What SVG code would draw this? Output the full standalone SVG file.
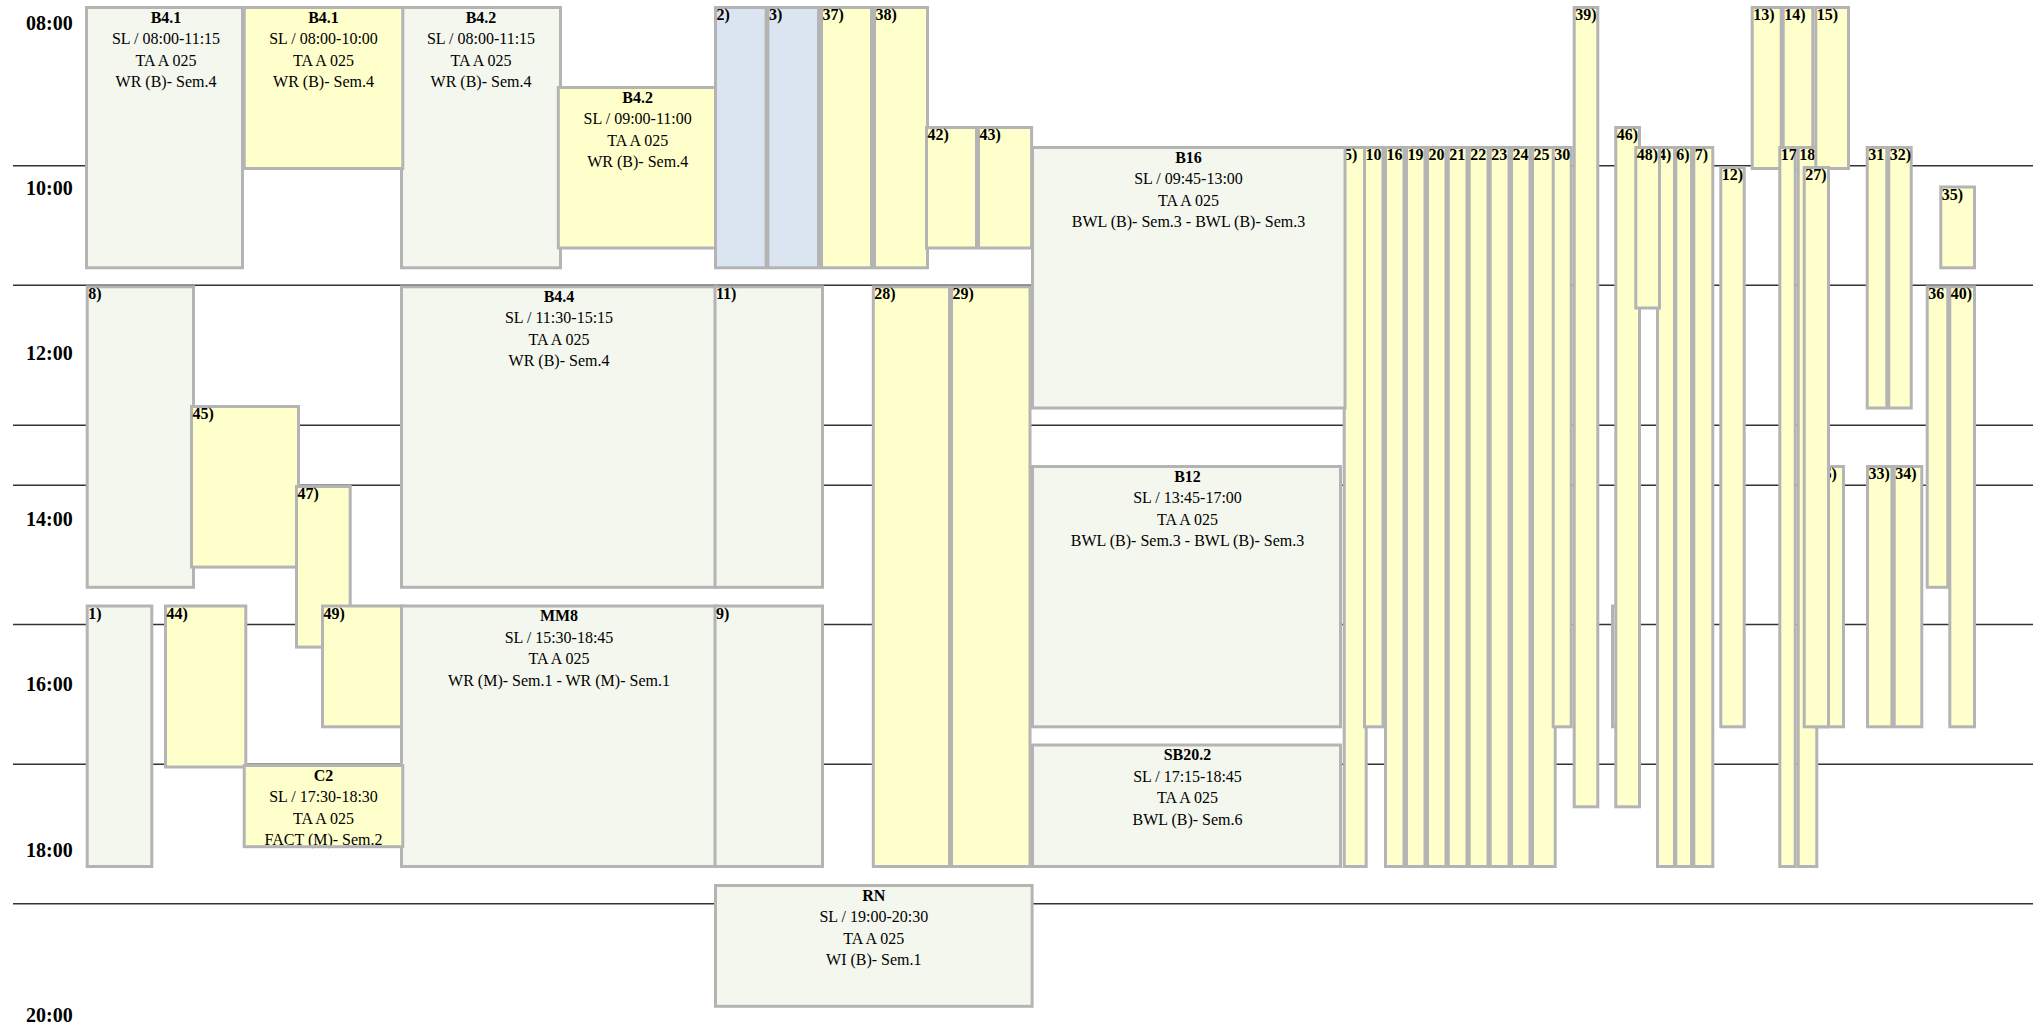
<svg xmlns="http://www.w3.org/2000/svg" width="2033" height="1023" viewBox="0 0 2033 1023">
<style>
.bx{stroke:#b4b4b4;stroke-width:3}
.so{fill:none;stroke:#b4b4b4;stroke-width:3}
.g{fill:#f4f7ee}
.y{fill:#ffffcc}
.b{fill:#dbe5f1}
.t{font-family:"Liberation Serif","Times New Roman",serif;font-size:16px;fill:#000}
.tb{font-weight:bold}
.c{text-anchor:middle}
.tm{font-family:"Liberation Serif","Times New Roman",serif;font-size:20px;font-weight:bold;fill:#000}
.hl{stroke:#333;stroke-width:1.6}
</style>
<rect width="2033" height="1023" fill="#fff"/>
<g id="grid">
<line class="hl" x1="13" y1="165.7" x2="2033" y2="165.7"/>
<line class="hl" x1="13" y1="285.3" x2="2033" y2="285.3"/>
<line class="hl" x1="13" y1="425.2" x2="2033" y2="425.2"/>
<line class="hl" x1="13" y1="485.3" x2="2033" y2="485.3"/>
<line class="hl" x1="13" y1="624.5" x2="2033" y2="624.5"/>
<line class="hl" x1="13" y1="764.3" x2="2033" y2="764.3"/>
<line class="hl" x1="13" y1="903.8" x2="2033" y2="903.8"/>
</g>
<g id="times">
<text class="tm" x="26" y="30">08:00</text>
<text class="tm" x="26" y="195">10:00</text>
<text class="tm" x="26" y="360">12:00</text>
<text class="tm" x="26" y="526">14:00</text>
<text class="tm" x="26" y="691">16:00</text>
<text class="tm" x="26" y="857">18:00</text>
<text class="tm" x="26" y="1022">20:00</text>
</g>
<g id="n-B41a"><rect class="bx g" x="86.5" y="7.5" width="156" height="260.3"/>
<text class="t tb c" x="166" y="22.5">B4.1</text><text class="t c" x="166" y="44">SL / 08:00-11:15</text><text class="t c" x="166" y="65.5">TA A 025</text><text class="t c" x="166" y="87">WR (B)- Sem.4</text></g>
<g id="n-B42a"><rect class="bx g" x="401.5" y="7.5" width="159" height="260.3"/>
<text class="t tb c" x="481" y="22.5">B4.2</text><text class="t c" x="481" y="44">SL / 08:00-11:15</text><text class="t c" x="481" y="65.5">TA A 025</text><text class="t c" x="481" y="87">WR (B)- Sem.4</text></g>
<g id="n-B41b"><rect class="bx y" x="244.2" y="7.5" width="158.6" height="161"/>
<text class="t tb c" x="323.5" y="22.5">B4.1</text><text class="t c" x="323.5" y="44">SL / 08:00-10:00</text><text class="t c" x="323.5" y="65.5">TA A 025</text><text class="t c" x="323.5" y="87">WR (B)- Sem.4</text></g>
<g id="n-B42b"><rect class="bx y" x="558.3" y="87.5" width="158.9" height="160.5"/>
<text class="t tb c" x="637.7" y="102.5">B4.2</text><text class="t c" x="637.7" y="124">SL / 09:00-11:00</text><text class="t c" x="637.7" y="145.5">TA A 025</text><text class="t c" x="637.7" y="167">WR (B)- Sem.4</text></g>
<g id="n2"><rect class="bx b" x="715.5" y="7.5" width="50.6" height="260.3"/><text class="t tb" x="716.5" y="20">2)</text></g>
<g id="n3"><rect class="bx b" x="767.9" y="7.5" width="50.6" height="260.3"/><text class="t tb" x="768.9" y="20">3)</text></g>
<g id="n37"><rect class="bx y" x="821.5" y="7.5" width="50" height="260.3"/><text class="t tb" x="822.5" y="20">37)</text></g>
<g id="n38"><rect class="bx y" x="874.5" y="7.5" width="53" height="260.3"/><text class="t tb" x="875.5" y="20">38)</text></g>
<g id="n42"><rect class="bx y" x="926.5" y="127.5" width="50" height="120.5"/><text class="t tb" x="927.5" y="140">42)</text></g>
<g id="n43"><rect class="bx y" x="978.5" y="127.5" width="53.1" height="120.5"/><text class="t tb" x="979.5" y="140">43)</text></g>
<g id="n8"><rect class="bx g" x="87.2" y="286.8" width="106.3" height="300.5"/><text class="t tb" x="88.2" y="299.3">8)</text></g>
<g id="n45"><rect class="bx y" x="191.5" y="406.5" width="107" height="160.6"/><text class="t tb" x="192.5" y="419">45)</text></g>
<g id="n47"><rect class="bx y" x="296.5" y="486.5" width="53.7" height="160.6"/><text class="t tb" x="297.5" y="499">47)</text></g>
<g id="n-B44"><rect class="bx g" x="401.5" y="286.8" width="315" height="300.5"/>
<text class="t tb c" x="559" y="301.8">B4.4</text><text class="t c" x="559" y="323.3">SL / 11:30-15:15</text><text class="t c" x="559" y="344.8">TA A 025</text><text class="t c" x="559" y="366.3">WR (B)- Sem.4</text></g>
<g id="n11"><rect class="bx g" x="715" y="286.8" width="107.5" height="300.5"/><text class="t tb" x="716" y="299.3">11)</text></g>
<g id="n28"><rect class="bx y" x="873.3" y="286.8" width="76.2" height="579.7"/><text class="t tb" x="874.3" y="299.3">28)</text></g>
<g id="n29"><rect class="bx y" x="951.5" y="286.8" width="78.5" height="579.7"/><text class="t tb" x="952.5" y="299.3">29)</text></g>
<g id="n1"><rect class="bx g" x="87.2" y="606" width="64.6" height="260.5"/><text class="t tb" x="88.2" y="618.5">1)</text></g>
<g id="n44"><rect class="bx y" x="165.5" y="606" width="80.3" height="161"/><text class="t tb" x="166.5" y="618.5">44)</text></g>
<g id="n49"><rect class="bx y" x="322.5" y="606" width="80.3" height="120.8"/><text class="t tb" x="323.5" y="618.5">49)</text></g>
<g id="n-MM8"><rect class="bx g" x="401.5" y="606" width="315" height="260.5"/>
<text class="t tb c" x="559" y="621">MM8</text><text class="t c" x="559" y="642.5">SL / 15:30-18:45</text><text class="t c" x="559" y="664">TA A 025</text><text class="t c" x="559" y="685.5">WR (M)- Sem.1 - WR (M)- Sem.1</text></g>
<g id="n9"><rect class="bx g" x="715" y="606" width="107.5" height="260.5"/><text class="t tb" x="716" y="618.5">9)</text></g>
<g id="n-C2"><rect class="y" x="244.2" y="765.5" width="158.6" height="81.2"/>
<text class="t tb c" x="323.5" y="780.5">C2</text><text class="t c" x="323.5" y="802">SL / 17:30-18:30</text><text class="t c" x="323.5" y="823.5">TA A 025</text><text class="t c" x="323.5" y="845">FACT (M)- Sem.2</text>
<rect class="so" x="244.2" y="765.5" width="158.6" height="81.2"/></g>
<g id="n-RN"><rect class="bx g" x="715.5" y="885.5" width="316.6" height="120.8"/>
<text class="t tb c" x="873.8" y="900.5">RN</text><text class="t c" x="873.8" y="922">SL / 19:00-20:30</text><text class="t c" x="873.8" y="943.5">TA A 025</text><text class="t c" x="873.8" y="965">WI (B)- Sem.1</text></g>
<g id="n5"><rect class="bx y" x="1344.2" y="147.5" width="22" height="719"/><text class="t tb" x="1344" y="160">5)</text></g>
<g id="n-B16"><rect class="bx g" x="1032.5" y="147.5" width="312.5" height="260.5"/>
<text class="t tb c" x="1188.5" y="162.5">B16</text><text class="t c" x="1188.5" y="184">SL / 09:45-13:00</text><text class="t c" x="1188.5" y="205.5">TA A 025</text><text class="t c" x="1188.5" y="227">BWL (B)- Sem.3 - BWL (B)- Sem.3</text></g>
<g id="n-B12"><rect class="bx g" x="1032.5" y="466.5" width="308" height="260.3"/>
<text class="t tb c" x="1187.5" y="481.5">B12</text><text class="t c" x="1187.5" y="503">SL / 13:45-17:00</text><text class="t c" x="1187.5" y="524.5">TA A 025</text><text class="t c" x="1187.5" y="546">BWL (B)- Sem.3 - BWL (B)- Sem.3</text></g>
<g id="n-SB202"><rect class="bx g" x="1032.5" y="745" width="308" height="121.5"/>
<text class="t tb c" x="1187.5" y="760">SB20.2</text><text class="t c" x="1187.5" y="781.5">SL / 17:15-18:45</text><text class="t c" x="1187.5" y="803">TA A 025</text><text class="t c" x="1187.5" y="824.5">BWL (B)- Sem.6</text></g>
<g id="n10"><rect class="bx y" x="1364.5" y="147.5" width="18.5" height="579.3"/><text class="t tb" x="1365.5" y="160">10</text></g>
<g id="n16"><rect class="bx y" x="1385.5" y="147.5" width="18.5" height="719"/><text class="t tb" x="1386.5" y="160">16</text></g>
<g id="n19"><rect class="bx y" x="1406.5" y="147.5" width="18.5" height="719"/><text class="t tb" x="1407.5" y="160">19</text></g>
<g id="n20"><rect class="bx y" x="1427.5" y="147.5" width="18.5" height="719"/><text class="t tb" x="1428.5" y="160">20</text></g>
<g id="n21"><rect class="bx y" x="1448.2" y="147.5" width="18.8" height="719"/><text class="t tb" x="1449.2" y="160">21</text></g>
<g id="n22"><rect class="bx y" x="1469.2" y="147.5" width="18.8" height="719"/><text class="t tb" x="1470.2" y="160">22</text></g>
<g id="n23"><rect class="bx y" x="1490.2" y="147.5" width="18.8" height="719"/><text class="t tb" x="1491.2" y="160">23</text></g>
<g id="n24"><rect class="bx y" x="1511.5" y="147.5" width="18.5" height="719"/><text class="t tb" x="1512.5" y="160">24</text></g>
<g id="n25"><rect class="bx y" x="1532.5" y="147.5" width="22.7" height="719"/><text class="t tb" x="1533.5" y="160">25</text></g>
<g id="n30"><rect class="bx y" x="1553.2" y="147.5" width="18" height="579.3"/><text class="t tb" x="1554.2" y="160">30</text></g>
<g id="n39"><rect class="bx y" x="1574.2" y="7.5" width="23.6" height="799.3"/><text class="t tb" x="1575.2" y="20">39)</text></g>
<g id="n41"><rect class="bx y" x="1612.5" y="606" width="26" height="120.8"/></g>
<g id="n46"><rect class="bx y" x="1615.8" y="127.5" width="23.7" height="679.3"/><text class="t tb" x="1616.8" y="140">46)</text></g>
<g id="n7"><rect class="bx y" x="1693.8" y="147.5" width="19" height="719"/><text class="t tb" x="1694.8" y="160">7)</text></g>
<g id="n6"><rect class="bx y" x="1675.8" y="147.5" width="15.7" height="719"/><text class="t tb" x="1676.3" y="160">6)</text></g>
<g id="n4"><rect class="bx y" x="1657.5" y="147.5" width="17" height="719"/><text class="t tb" x="1658" y="160">4)</text></g>
<g id="n48"><rect class="bx y" x="1635.8" y="147.5" width="23.7" height="160.5"/><text class="t tb" x="1636.8" y="160">48)</text></g>
<g id="n12"><rect class="bx y" x="1720.8" y="167.5" width="23.4" height="559.3"/><text class="t tb" x="1721.8" y="180">12)</text></g>
<g id="n13"><rect class="bx y" x="1752.2" y="7.5" width="29" height="161"/><text class="t tb" x="1753.2" y="20">13)</text></g>
<g id="n14"><rect class="bx y" x="1783.2" y="7.5" width="29.6" height="161"/><text class="t tb" x="1784.2" y="20">14)</text></g>
<g id="n17"><rect class="bx y" x="1779.8" y="147.5" width="15.4" height="719"/><text class="t tb" x="1780.8" y="160">17</text></g>
<g id="n18"><rect class="bx y" x="1798.2" y="147.5" width="18.6" height="719"/><text class="t tb" x="1799.2" y="160">18</text></g>
<g id="n15"><rect class="bx y" x="1815.8" y="7.5" width="32.7" height="161"/><text class="t tb" x="1816.8" y="20">15)</text></g>
<g id="n26"><rect class="bx y" x="1813.5" y="466.5" width="30" height="260.3"/><text class="t tb" x="1823.5" y="479">6)</text></g>
<g id="n27"><rect class="bx y" x="1804.2" y="167.5" width="24.3" height="559.3"/><text class="t tb" x="1805.2" y="180">27)</text></g>
<g id="n31"><rect class="bx y" x="1867.2" y="147.5" width="19.6" height="260.5"/><text class="t tb" x="1868.2" y="160">31</text></g>
<g id="n32"><rect class="bx y" x="1888.8" y="147.5" width="22.4" height="260.5"/><text class="t tb" x="1889.8" y="160">32)</text></g>
<g id="n33"><rect class="bx y" x="1867.5" y="466.5" width="24.4" height="260.3"/><text class="t tb" x="1868.5" y="479">33)</text></g>
<g id="n34"><rect class="bx y" x="1894.2" y="466.5" width="27.6" height="260.3"/><text class="t tb" x="1895.2" y="479">34)</text></g>
<g id="n35"><rect class="bx y" x="1940.8" y="187" width="33.7" height="80.8"/><text class="t tb" x="1941.8" y="199.5">35)</text></g>
<g id="n36"><rect class="bx y" x="1927.2" y="286.8" width="20.6" height="300.5"/><text class="t tb" x="1928.2" y="299.3">36</text></g>
<g id="n40"><rect class="bx y" x="1949.8" y="286.8" width="24.7" height="440"/><text class="t tb" x="1950.8" y="299.3">40)</text></g>
</svg>
